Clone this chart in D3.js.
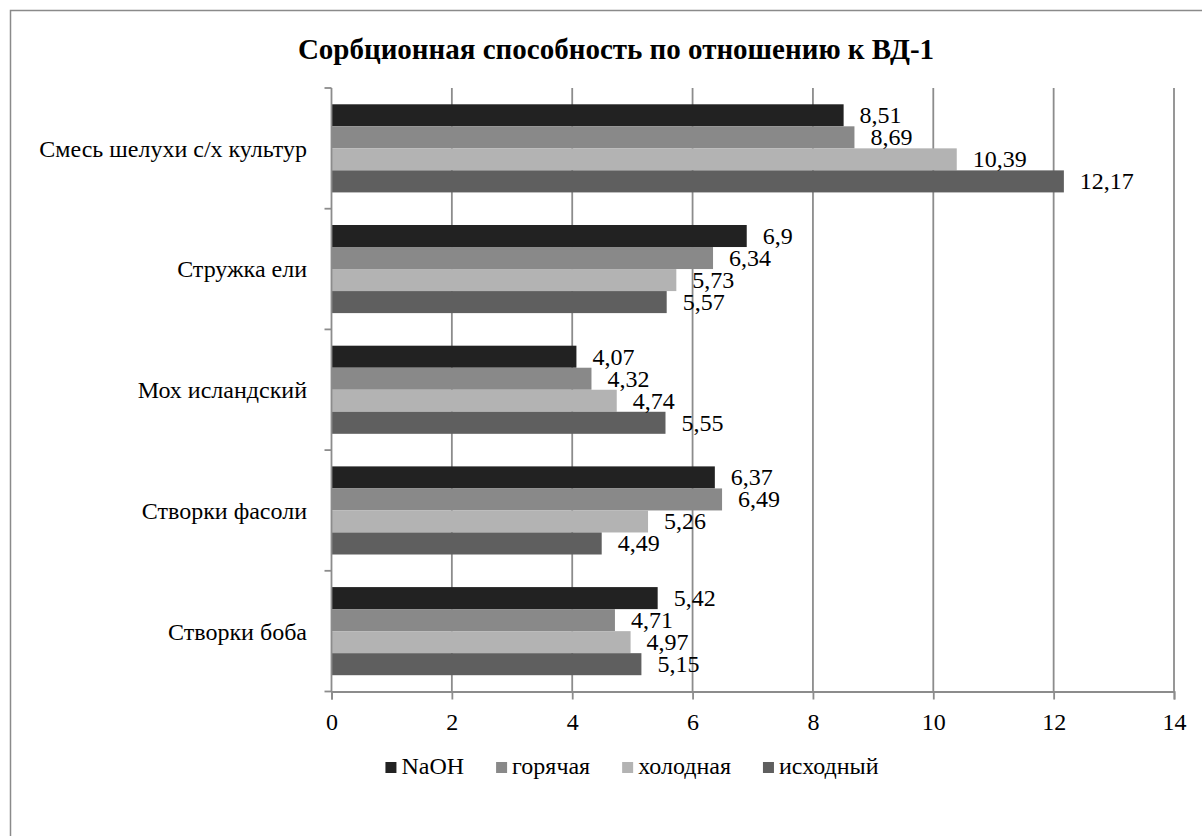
<!DOCTYPE html>
<html>
<head>
<meta charset="utf-8">
<script src="https://cdn.jsdelivr.net/npm/d3@7"></script>
<style>
  html,body{margin:0;padding:0;background:#fff;}
  svg{display:block;}
</style>
</head>
<body>
<div id="chart"></div>
<script>
const categories=["Смесь шелухи с/х культур","Стружка ели","Мох исландский","Створки фасоли","Створки боба"];
const seriesNames=["NaOH","горячая","холодная","исходный"];
const naoh=[8.51,6.9,4.07,6.37,5.42];
const hot=[8.69,6.34,4.32,6.49,4.71];
const cold=[10.39,5.73,4.74,5.26,4.97];
const orig=[12.17,5.57,5.55,4.49,5.15];
const xTicks=[0,2,4,6,8,10,12,14];
const colors=["#222222","#898989","#b3b3b3","#5f5f5f"];

(function(){
  const W=1202,H=836, font='"Liberation Serif"';
  const svg=d3.select("#chart").append("svg").attr("width",W).attr("height",H)
    .style("font-family",font);
  const values=[naoh,hot,cold,orig];
  const fs=24, grid="#8c8c8c";

  // frame (right/bottom edges fall outside the picture)
  svg.append("rect").attr("x",10.5).attr("y",10.5).attr("width",1240).attr("height",880)
    .attr("fill","none").attr("stroke","#8a8a8a").attr("stroke-width",1.5);

  svg.append("text").attr("x",616).attr("y",59).attr("text-anchor","middle")
    .attr("font-size",29).attr("font-weight","bold").style("font-family",font)
    .text("Сорбционная способность по отношению к ВД-1");

  const x=d3.scaleLinear().domain([0,14]).range([331.5,1174]);
  const y=d3.scaleBand().domain(categories).range([88,691.5]).paddingInner(0.27).paddingOuter(0.135);
  const sub=d3.scaleBand().domain(seriesNames).range([0,y.bandwidth()]);
  const step=y.step(), y0=88;

  // vertical gridlines
  svg.append("g").selectAll("line").data(xTicks.slice(1)).join("line")
    .attr("x1",d=>x(d)).attr("x2",d=>x(d)).attr("y1",y0).attr("y2",691.5)
    .attr("stroke",grid).attr("stroke-width",1.8);

  // bars
  const rows=[];
  categories.forEach((c,i)=>seriesNames.forEach((s,j)=>rows.push({c,s,j,v:values[j][i]})));
  svg.append("g").selectAll("rect").data(rows).join("rect")
    .attr("x",x(0)).attr("y",d=>y(d.c)+sub(d.s)).attr("width",d=>x(d.v)-x(0)).attr("height",sub.bandwidth())
    .attr("fill",d=>colors[d.j]);

  svg.append("g").selectAll("text").data(rows).join("text")
    .attr("x",d=>x(d.v)+16).attr("y",d=>y(d.c)+sub(d.s)+sub.bandwidth()/2+fs*0.33)
    .attr("font-size",fs).style("font-family",font).attr("fill","#000").text(d=>String(d.v).replace(".",","));

  // x axis
  const xa=svg.append("g").attr("transform","translate(0,691.5)")
    .call(d3.axisBottom(x).tickValues(xTicks).tickSize(8).tickPadding(13).tickFormat(d3.format("d")));
  xa.select(".domain").attr("stroke",grid).attr("stroke-width",1.8);
  xa.selectAll(".tick line").attr("stroke",grid).attr("stroke-width",1.8);
  xa.selectAll(".tick text").attr("font-size",fs).style("font-family",font).attr("fill","#000");

  // y axis: line + ticks at band boundaries
  const yg=svg.append("g");
  yg.append("line").attr("x1",x(0)).attr("x2",x(0)).attr("y1",y0).attr("y2",691.5)
    .attr("stroke",grid).attr("stroke-width",1.8);
  yg.selectAll("line.t").data(d3.range(categories.length+1)).join("line").attr("class","t")
    .attr("x1",x(0)-7).attr("x2",x(0)).attr("y1",i=>y0+i*step).attr("y2",i=>y0+i*step)
    .attr("stroke",grid).attr("stroke-width",1.8);
  yg.selectAll("text").data(categories).join("text")
    .attr("x",307).attr("y",d=>y(d)+y.bandwidth()/2+fs*0.35).attr("text-anchor","end")
    .attr("font-size",fs).style("font-family",font).attr("fill","#000").text(d=>d);

  // legend
  const lg=svg.append("g");
  const items=lg.selectAll("g").data(seriesNames).join("g");
  items.append("rect").attr("width",11).attr("height",11).attr("y",762).attr("fill",(d,i)=>colors[i]);
  items.append("text").attr("x",16).attr("y",774).attr("font-size",fs).style("font-family",font).text(d=>d);
  const widths=[];
  items.each(function(){widths.push(16+this.querySelector("text").getComputedTextLength());});
  const gap=32, total=d3.sum(widths)+gap*(widths.length-1);
  let cx=632-total/2;
  items.attr("transform",(d,i)=>{const t=`translate(${cx},0)`;cx+=widths[i]+gap;return t;});
})();
</script>
</body>
</html>
